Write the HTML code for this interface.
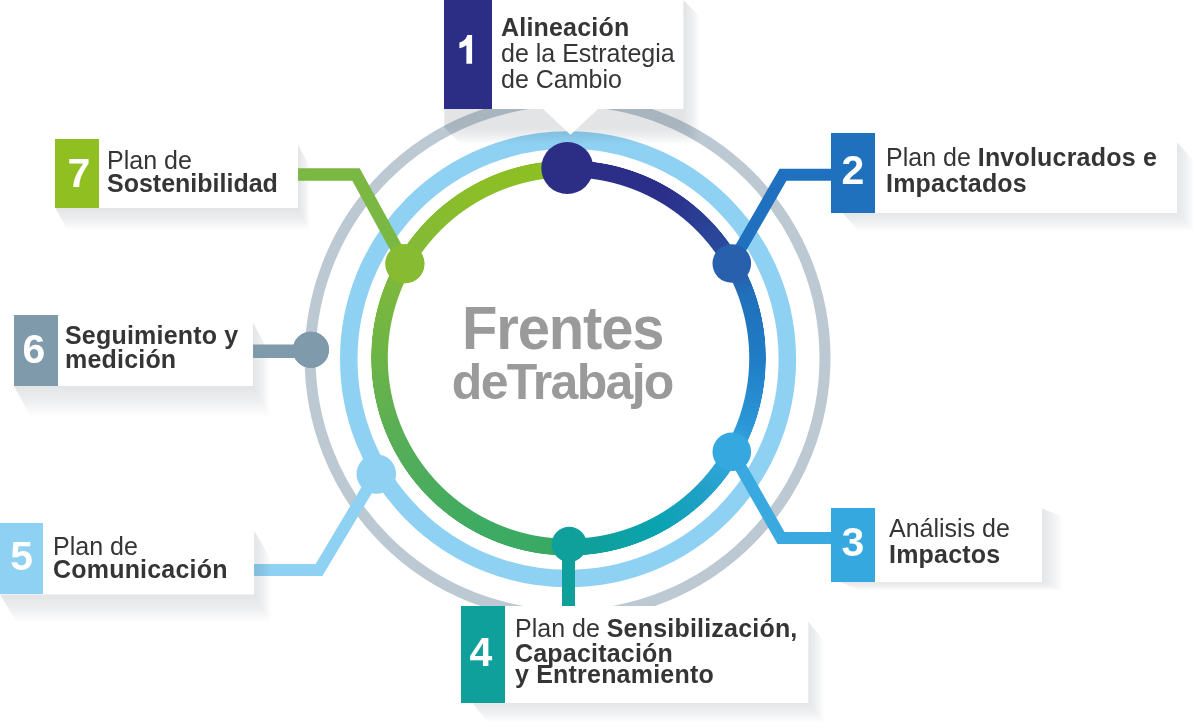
<!DOCTYPE html>
<html><head><meta charset="utf-8"><style>
html,body{margin:0;padding:0;background:#fff;}
body{width:1200px;height:727px;position:relative;overflow:hidden;font-family:"Liberation Sans", sans-serif;}
.abs{position:absolute;}
.ln{position:absolute;white-space:nowrap;will-change:transform;font-size:25px;line-height:25px;color:#353535;}
.ln b{font-weight:700;letter-spacing:0.2px;}
.num{position:absolute;will-change:transform;color:#fff;font-weight:700;font-size:41px;line-height:41px;text-align:center;}
svg{position:absolute;left:0;top:0;}
</style></head><body>

<svg width="1200" height="727" viewBox="0 0 1200 727">
<circle cx="567.55" cy="358" r="257.45" fill="none" stroke="#bdc9d2" stroke-width="11"/>
<circle cx="568.05" cy="359.3" r="219.3" fill="none" stroke="#8fd1f3" stroke-width="17.5"/>
</svg>
<div class="abs" style="left:370.65000000000003px;top:160.09999999999997px;width:395.6px;height:395.6px;border-radius:50%;background:conic-gradient(from 0deg,#8dc021 0deg, #2c2e86 0deg, #2b2f8a 30deg, #2a4c9e 56deg, #2a58a6 62deg, #2070ba 70deg, #1f7cc5 90deg, #2b96d6 110deg, #35a8df 120deg, #22a0c8 135deg, #0aa3b0 152deg, #0fa09c 172deg, #0fa09c 180deg, #37a965 180deg, #3eab62 208deg, #52ad5a 238deg, #6cb446 270deg, #82b93a 300deg, #8bbe28 330deg, #8dc021 360deg);-webkit-mask:radial-gradient(circle closest-side, transparent 180.20px, #000 181.20px, #000 197.20px, transparent 198.00px);mask:radial-gradient(circle closest-side, transparent 180.20px, #000 181.20px, #000 197.20px, transparent 198.00px);"></div>
<svg width="1200" height="727" viewBox="0 0 1200 727">
<polyline points="731.8,263.5 783,174.7 835,174.7" fill="none" stroke="#1f71bf" stroke-width="12" stroke-linejoin="miter" stroke-linecap="butt"/>
<polyline points="731.8,451.8 781,538 835,538" fill="none" stroke="#3aa9e0" stroke-width="12" stroke-linejoin="miter" stroke-linecap="butt"/>
<polyline points="568.5,544 568.5,606" fill="none" stroke="#0fa09c" stroke-width="13" stroke-linejoin="miter" stroke-linecap="butt"/>
<polyline points="376.3,474 319,570 250,570" fill="none" stroke="#8fd1f3" stroke-width="12" stroke-linejoin="miter" stroke-linecap="butt"/>
<circle cx="567.3" cy="168" r="26" fill="#2c2e86"/>
<circle cx="731.8" cy="263.5" r="19.3" fill="#2860ad"/>
<circle cx="731.8" cy="451.8" r="19.3" fill="#35a8df"/>
<circle cx="569.2" cy="544.4" r="17.6" fill="#0fa09c"/>
<circle cx="376.3" cy="474" r="19.8" fill="#8fd1f3"/>
<circle cx="310.9" cy="349.8" r="18.1" fill="#7f9aab"/>
<circle cx="404.9" cy="263.7" r="19.5" fill="#86bb32"/>
</svg>
<svg width="1200" height="727" viewBox="0 0 1200 727">
<rect x="444.3" y="109" width="239.09999999999997" height="18.5" fill="#1e2d3c" fill-opacity="0.13"/>
<linearGradient id="g1" gradientUnits="userSpaceOnUse" x1="0" y1="127.5" x2="0" y2="144.5"><stop offset="0" stop-color="#1e2d3c" stop-opacity="0.13"/><stop offset="0.5" stop-color="#1e2d3c" stop-opacity="0.0780"/><stop offset="1" stop-color="#1e2d3c" stop-opacity="0"/></linearGradient>
<polygon points="444.3,127.5 683.4,127.5 700.4,144.5 461.3,144.5" fill="url(#g1)"/>
<linearGradient id="g2" gradientUnits="userSpaceOnUse" x1="683.4" y1="0" x2="700.4" y2="0"><stop offset="0" stop-color="#1e2d3c" stop-opacity="0.13"/><stop offset="0.5" stop-color="#1e2d3c" stop-opacity="0.0780"/><stop offset="1" stop-color="#1e2d3c" stop-opacity="0"/></linearGradient>
<polygon points="683.4,0 700.4,17 700.4,144.5 683.4,127.5" fill="url(#g2)"/>
<linearGradient id="g3" gradientUnits="userSpaceOnUse" x1="0" y1="212.7" x2="0" y2="231.7"><stop offset="0" stop-color="#1e2d3c" stop-opacity="0.12"/><stop offset="0.5" stop-color="#1e2d3c" stop-opacity="0.0720"/><stop offset="1" stop-color="#1e2d3c" stop-opacity="0"/></linearGradient>
<polygon points="842.3,212.7 1177,212.7 1194.1,231.7 859.4,231.7" fill="url(#g3)"/>
<linearGradient id="g4" gradientUnits="userSpaceOnUse" x1="1177" y1="0" x2="1194.1" y2="0"><stop offset="0" stop-color="#1e2d3c" stop-opacity="0.12"/><stop offset="0.5" stop-color="#1e2d3c" stop-opacity="0.0720"/><stop offset="1" stop-color="#1e2d3c" stop-opacity="0"/></linearGradient>
<polygon points="1177,142.3 1194.1,161.3 1194.1,231.7 1177,212.7" fill="url(#g4)"/>
<linearGradient id="g5" gradientUnits="userSpaceOnUse" x1="0" y1="581.6" x2="0" y2="590.6"><stop offset="0" stop-color="#1e2d3c" stop-opacity="0.12"/><stop offset="0.5" stop-color="#1e2d3c" stop-opacity="0.0720"/><stop offset="1" stop-color="#1e2d3c" stop-opacity="0"/></linearGradient>
<polygon points="839.3,581.6 1041.7,581.6 1063.3,590.6 860.9,590.6" fill="url(#g5)"/>
<linearGradient id="g6" gradientUnits="userSpaceOnUse" x1="1041.7" y1="0" x2="1063.3" y2="0"><stop offset="0" stop-color="#1e2d3c" stop-opacity="0.12"/><stop offset="0.5" stop-color="#1e2d3c" stop-opacity="0.0720"/><stop offset="1" stop-color="#1e2d3c" stop-opacity="0"/></linearGradient>
<polygon points="1041.7,508.3 1063.3,517.3 1063.3,590.6 1041.7,581.6" fill="url(#g6)"/>
<linearGradient id="g7" gradientUnits="userSpaceOnUse" x1="0" y1="702.8" x2="0" y2="722.8"><stop offset="0" stop-color="#1e2d3c" stop-opacity="0.12"/><stop offset="0.5" stop-color="#1e2d3c" stop-opacity="0.0720"/><stop offset="1" stop-color="#1e2d3c" stop-opacity="0"/></linearGradient>
<polygon points="472.4,702.8 808.3,702.8 824.3,722.8 488.4,722.8" fill="url(#g7)"/>
<linearGradient id="g8" gradientUnits="userSpaceOnUse" x1="808.3" y1="0" x2="824.3" y2="0"><stop offset="0" stop-color="#1e2d3c" stop-opacity="0.12"/><stop offset="0.5" stop-color="#1e2d3c" stop-opacity="0.0720"/><stop offset="1" stop-color="#1e2d3c" stop-opacity="0"/></linearGradient>
<polygon points="808.3,621.6 824.3,641.6 824.3,722.8 808.3,702.8" fill="url(#g8)"/>
<linearGradient id="g9" gradientUnits="userSpaceOnUse" x1="0" y1="594.4" x2="0" y2="622.4"><stop offset="0" stop-color="#1e2d3c" stop-opacity="0.13"/><stop offset="0.5" stop-color="#1e2d3c" stop-opacity="0.0780"/><stop offset="1" stop-color="#1e2d3c" stop-opacity="0"/></linearGradient>
<polygon points="0,594.4 254.2,594.4 271.0,622.4 16.8,622.4" fill="url(#g9)"/>
<linearGradient id="g10" gradientUnits="userSpaceOnUse" x1="254.2" y1="0" x2="271.0" y2="0"><stop offset="0" stop-color="#1e2d3c" stop-opacity="0.13"/><stop offset="0.5" stop-color="#1e2d3c" stop-opacity="0.0780"/><stop offset="1" stop-color="#1e2d3c" stop-opacity="0"/></linearGradient>
<polygon points="254.2,531 271.0,559 271.0,622.4 254.2,594.4" fill="url(#g10)"/>
<linearGradient id="g11" gradientUnits="userSpaceOnUse" x1="0" y1="385.7" x2="0" y2="416.7"><stop offset="0" stop-color="#1e2d3c" stop-opacity="0.13"/><stop offset="0.5" stop-color="#1e2d3c" stop-opacity="0.0780"/><stop offset="1" stop-color="#1e2d3c" stop-opacity="0"/></linearGradient>
<polygon points="13.8,385.7 252.9,385.7 269.95,416.7 30.85,416.7" fill="url(#g11)"/>
<linearGradient id="g12" gradientUnits="userSpaceOnUse" x1="252.9" y1="0" x2="269.95" y2="0"><stop offset="0" stop-color="#1e2d3c" stop-opacity="0.13"/><stop offset="0.5" stop-color="#1e2d3c" stop-opacity="0.0780"/><stop offset="1" stop-color="#1e2d3c" stop-opacity="0"/></linearGradient>
<polygon points="252.9,322.6 269.95,353.6 269.95,416.7 252.9,385.7" fill="url(#g12)"/>
<linearGradient id="g13" gradientUnits="userSpaceOnUse" x1="0" y1="208.1" x2="0" y2="230.1"><stop offset="0" stop-color="#1e2d3c" stop-opacity="0.13"/><stop offset="0.5" stop-color="#1e2d3c" stop-opacity="0.0780"/><stop offset="1" stop-color="#1e2d3c" stop-opacity="0"/></linearGradient>
<polygon points="55.3,208.1 298,208.1 310.1,230.1 67.4,230.1" fill="url(#g13)"/>
<linearGradient id="g14" gradientUnits="userSpaceOnUse" x1="298" y1="0" x2="310.1" y2="0"><stop offset="0" stop-color="#1e2d3c" stop-opacity="0.13"/><stop offset="0.5" stop-color="#1e2d3c" stop-opacity="0.0780"/><stop offset="1" stop-color="#1e2d3c" stop-opacity="0"/></linearGradient>
<polygon points="298,145 310.1,167 310.1,230.1 298,208.1" fill="url(#g14)"/>
<polyline points="250,351.25 311,351.25" fill="none" stroke="#7f9aab" stroke-width="13.3" stroke-linejoin="miter" stroke-linecap="butt"/>
<polyline points="295,174.4 356,174.4 404.9,263.7" fill="none" stroke="#7ab743" stroke-width="12.5" stroke-linejoin="miter" stroke-linecap="butt"/>
<circle cx="310.9" cy="349.8" r="18.1" fill="#7f9aab"/><circle cx="404.9" cy="263.7" r="19.5" fill="#86bb32"/>
</svg>
<div class="abs" style="left:444.3px;top:0px;width:239.09999999999997px;height:109.4px;background:#fff;"></div>
<div class="abs" style="left:444.3px;top:0px;width:47.69999999999999px;height:109.4px;background:#2c2e86;"></div>
<div class="ln" style="left:501px;top:14.84px;"><b>Alineación</b></div>
<div class="ln" style="left:501px;top:40.84px;">de la Estrategia</div>
<div class="ln" style="left:501px;top:67.44px;">de Cambio</div>
<div class="abs" style="left:831.3px;top:133.3px;width:345.70000000000005px;height:79.39999999999998px;background:#fff;"></div>
<div class="abs" style="left:831.3px;top:133.3px;width:43.60000000000002px;height:79.39999999999998px;background:#1f71bd;"></div>
<div class="num" style="left:831.3px;top:149.99px;width:43.60000000000002px;">2</div>
<div class="ln" style="left:886px;top:145.04px;">Plan de <b>Involucrados e</b></div>
<div class="ln" style="left:886px;top:171.14px;"><b>Impactados</b></div>
<div class="abs" style="left:831.3px;top:508.3px;width:210.4000000000001px;height:73.30000000000001px;background:#fff;"></div>
<div class="abs" style="left:831.3px;top:508.3px;width:43.60000000000002px;height:73.30000000000001px;background:#35a8df;"></div>
<div class="num" style="left:831.3px;top:521.79px;width:43.60000000000002px;">3</div>
<div class="ln" style="left:889px;top:515.64px;">Análisis de</div>
<div class="ln" style="left:889px;top:542.34px;"><b>Impactos</b></div>
<div class="abs" style="left:461.4px;top:605.6px;width:346.9px;height:97.19999999999993px;background:#fff;"></div>
<div class="abs" style="left:461.4px;top:605.6px;width:43.700000000000045px;height:97.19999999999993px;background:#0fa09c;"></div>
<div class="num" style="left:459.2px;top:631.79px;width:43.700000000000045px;">4</div>
<div class="ln" style="left:515px;top:615.84px;">Plan de <b>Sensibilización,</b></div>
<div class="ln" style="left:515px;top:640.54px;"><b>Capacitación</b></div>
<div class="ln" style="left:515px;top:662.14px;"><b>y Entrenamiento</b></div>
<div class="abs" style="left:0px;top:523px;width:254.2px;height:71.39999999999998px;background:#fff;"></div>
<div class="abs" style="left:0px;top:523px;width:43.3px;height:71.39999999999998px;background:#8fd1f3;"></div>
<div class="num" style="left:0px;top:535.89px;width:43.3px;">5</div>
<div class="ln" style="left:52.5px;top:534.04px;">Plan de</div>
<div class="ln" style="left:52.5px;top:557.34px;"><b>Comunicación</b></div>
<div class="abs" style="left:13.8px;top:314.6px;width:239.1px;height:71.09999999999997px;background:#fff;"></div>
<div class="abs" style="left:13.8px;top:314.6px;width:44.0px;height:71.09999999999997px;background:#7f9aab;"></div>
<div class="num" style="left:12.3px;top:328.79px;width:44.0px;">6</div>
<div class="ln" style="left:64.5px;top:323.24px;"><b>Seguimiento y</b></div>
<div class="ln" style="left:64.5px;top:347.34px;"><b>medición</b></div>
<div class="abs" style="left:55.3px;top:139px;width:242.7px;height:69.1px;background:#fff;"></div>
<div class="abs" style="left:55.3px;top:139px;width:43.7px;height:69.1px;background:#8fbf20;"></div>
<div class="num" style="left:56.8px;top:152.79px;width:43.7px;">7</div>
<div class="ln" style="left:106.5px;top:147.64px;">Plan de</div>
<div class="ln" style="left:106.5px;top:171.34px;"><b style="letter-spacing:0">Sostenibilidad</b></div>
<svg width="1200" height="727" viewBox="0 0 1200 727">
<polygon points="543,109 598,109 570.5,134.7" fill="#fff"/>
<path d="M472.1,34.95 L472.1,63.85 L466.4,63.85 L466.4,45.3 Q463,47.6 459.4,48.2 L459.4,42.4 Q465.5,41 467.4,34.95 Z" fill="#fff"/>
</svg>
<div class="abs" style="left:461.5px;top:298.26px;font-weight:700;font-size:61px;line-height:61px;letter-spacing:-1.2px;color:#9a9a9b;white-space:nowrap;transform:scaleX(0.95);transform-origin:0 0;">Frentes</div>
<div class="abs" style="left:451.8px;top:356.78px;font-weight:700;font-size:50px;line-height:50px;letter-spacing:-1.7px;color:#9a9a9b;white-space:nowrap;">deTrabajo</div>
</body></html>
